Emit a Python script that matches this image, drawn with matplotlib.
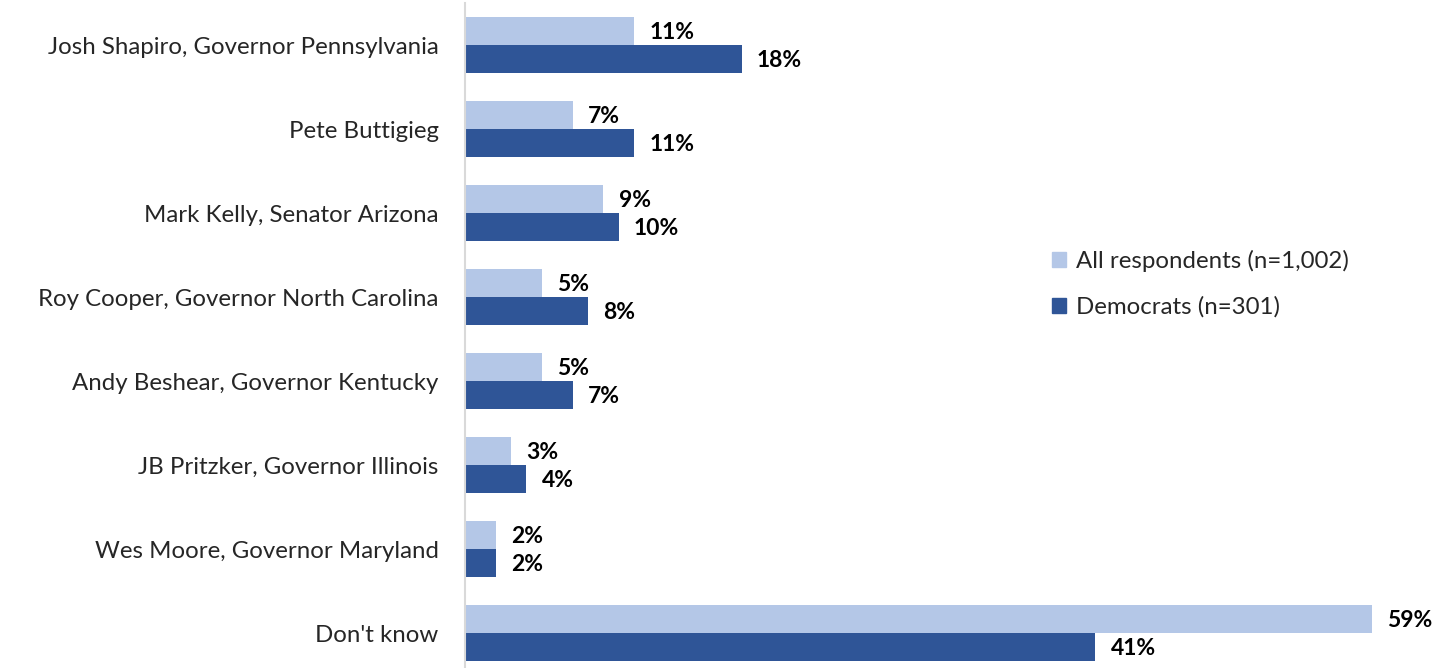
import numpy as np
import matplotlib
matplotlib.use("Agg")
import matplotlib.pyplot as plt
from matplotlib.patches import Patch

plt.rcParams['font.family'] = ['Lato', 'DejaVu Sans']

categories = ["Josh Shapiro, Governor Pennsylvania", "Pete Buttigieg",
              "Mark Kelly, Senator Arizona", "Roy Cooper, Governor North Carolina",
              "Andy Beshear, Governor Kentucky", "JB Pritzker, Governor Illinois",
              "Wes Moore, Governor Maryland", "Don't know"]
all_resp = [11, 7, 9, 5, 5, 3, 2, 59]
democrats = [18, 11, 10, 8, 7, 4, 2, 41]
series_names = ["All respondents (n=1,002)", "Democrats (n=301)"]

light = "#B4C7E7"
dark = "#2F5597"

fig = plt.figure(figsize=(14.41, 6.68), dpi=100)
ax = fig.add_axes([465 / 1441, 0.0, (1441 - 465) / 1441, 1 - 3 / 668])

y = np.arange(len(categories))
h = 1 / 3
ax.barh(y - h / 2, all_resp, height=h, color=light)
ax.barh(y + h / 2, democrats, height=h, color=dark)

for yi, a, d in zip(y, all_resp, democrats):
    ax.annotate(f"{a}%", (a, yi - h / 2), xytext=(11, -1), textcoords="offset points",
                va="center", ha="left", fontsize=16.5, fontweight="bold", color="black")
    ax.annotate(f"{d}%", (d, yi + h / 2), xytext=(11, -1), textcoords="offset points",
                va="center", ha="left", fontsize=16.5, fontweight="bold", color="black")

ax.set_ylim(7.5 - 7 / 84, -0.5)
ax.set_xlim(0, (1441 - 465) / (907 / 59))
ax.set_yticks(y)
ax.set_yticklabels(categories, fontsize=17.3, color="#262626")
ax.tick_params(axis="y", length=0, pad=19)
ax.set_xticks([])
for s in ["top", "right", "bottom"]:
    ax.spines[s].set_visible(False)
ax.spines["left"].set_color("#D9D9D9")
ax.spines["left"].set_linewidth(1.5)

handles = [Patch(color=light), Patch(color=dark)]
fig.legend(handles, series_names, loc="center left", bbox_to_anchor=(1030 / 1441, 1 - 284 / 668),
           frameon=False, fontsize=17.3, handlelength=0.6, handleheight=0.6,
           handletextpad=0.4, labelspacing=1.0, labelcolor="#262626")

fig.savefig("out.png", dpi=100)
